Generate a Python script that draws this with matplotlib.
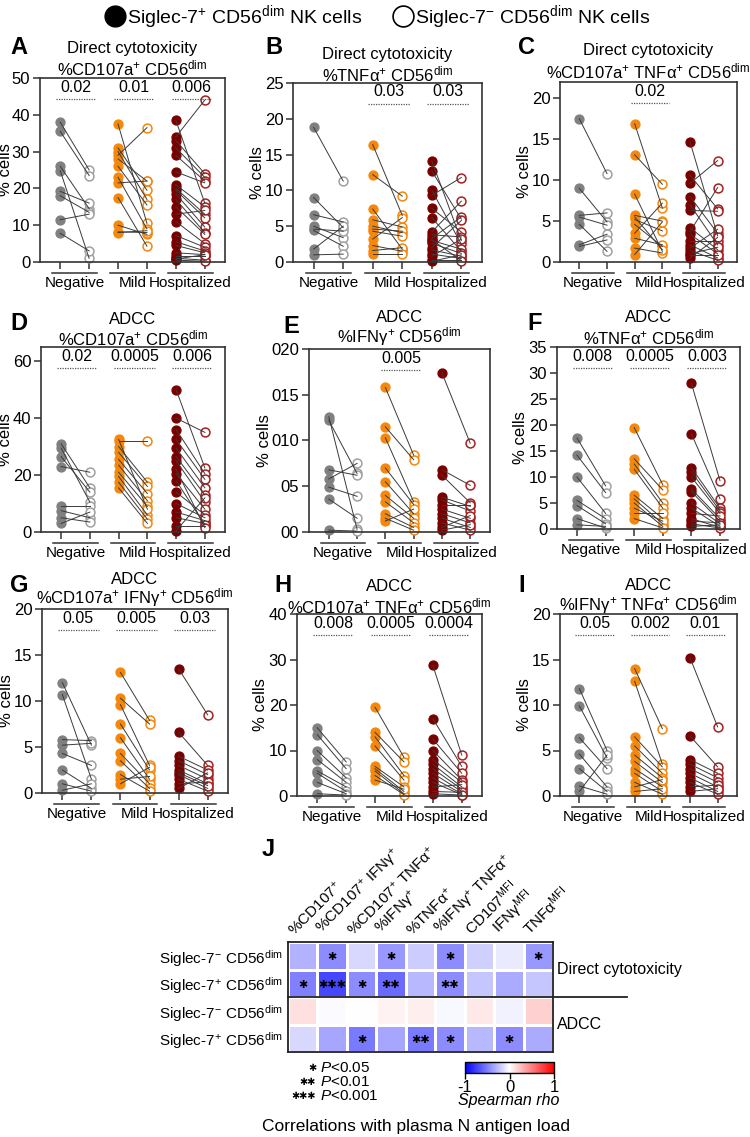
import numpy as np
import matplotlib as mpl
import matplotlib.pyplot as plt
import matplotlib.transforms as mtransforms
from matplotlib.lines import Line2D

mpl.rcParams["font.family"] = ["Liberation Sans", "DejaVu Sans"]
mpl.rcParams["mathtext.fontset"] = "custom"
mpl.rcParams["mathtext.rm"] = "Liberation Sans"
mpl.rcParams["mathtext.it"] = "Liberation Sans:italic"
mpl.rcParams["mathtext.bf"] = "Liberation Sans:bold"

# paired values (Siglec-7+ , Siglec-7-) per donor
a_neg = [(38, 25), (35.5, 23.5), (26, 14.5), (24.8, 1), (19.2, 16), (18, 13.5), (11.5, 13), (7.8, 3)]
a_mild = [(37.5, 10.5), (31, 19.5), (30, 17), (29, 36.5), (28, 22), (26, 15.5), (23, 9), (21.5, 22),
          (17.5, 4.3), (10, 7.5), (8.2, 8), (8, 8.5)]
a_hosp = [(38.5, 16), (34, 44), (33, 24), (31, 23), (29, 22), (24.5, 21.5), (21, 15), (20, 13), (19.5, 12),
          (18.5, 9.5), (17, 8), (15, 7.5), (13, 14), (11, 5), (7.2, 4), (5.5, 3), (4.5, 2.5), (2.5, 2),
          (1.5, 1.5), (1, 0.5), (0.5, 0.2), (0.8, 2)]

b_neg = [(18.8, 11.3), (9, 4.8), (6.6, 5.6), (5, 3.4), (4.6, 4.3), (4.4, 2.2), (1.8, 5.0), (1, 1.1)]
b_mild = [(16.4, 6.5), (12.2, 9.2), (7.4, 1.8), (5.9, 4.9), (5, 4.1), (4.6, 4.3), (4.3, 3.6), (3.2, 6.2),
          (2.3, 1.5), (1.6, 2.0), (1.1, 1.1)]
b_hosp = [(14.1, 3), (12.7, 6), (10, 2.5), (9.3, 11.8), (7.5, 4.2), (6.2, 1.5), (4.2, 8.5), (3.8, 3.5),
          (3.3, 6.3), (3.0, 1.8), (2.6, 1.2), (1.7, 0.8), (1.1, 0.5), (0.8, 3.2), (0.3, 0.3), (0.1, 1.0),
          (2.0, 5.8), (3.1, 0.2)]

c_neg = [(17.5, 10.8), (9, 4.9), (5.7, 6), (5.5, 4.5), (4.6, 1.3), (2.1, 3.4), (1.9, 2.7)]
c_mild = [(16.9, 6.6), (13.1, 9.5), (8.3, 1.3), (5.7, 5.0), (5.2, 3.8), (4.6, 1.9), (3.5, 7.2), (2.9, 2.1),
          (1.7, 1.1), (0.9, 4.9), (5.5, 1.5)]
c_hosp = [(14.7, 3.2), (10.6, 6.5), (9.6, 12.4), (8, 3.5), (7, 2.1), (6.3, 6.2), (4.2, 1.5), (3.7, 9.1),
          (3.4, 1.0), (2.6, 2.6), (2.1, 0.5), (1.7, 4.0), (1.4, 0.2), (1.0, 1.8), (0.8, 0.8), (0.5, 3.0)]

d_neg = [(31, 15.5), (29.5, 10.5), (26.5, 14), (23, 21), (9, 9), (7.5, 5), (5, 3.5), (3, 7)]
d_mild = [(32, 32), (30, 17.5), (28, 16), (25.5, 13.5), (23.5, 11), (21, 9), (19.5, 6), (17.5, 4.5),
          (15.5, 3), (32.5, 8)]
d_hosp = [(50, 22.5), (40, 35), (36, 20.5), (32.5, 18.5), (29.5, 15.5), (26.5, 13), (25, 10.5), (20.5, 8),
          (14, 6), (7, 4), (5, 3), (2, 2), (0.5, 12), (10, 5), (18, 2.5), (22, 1.5)]

e_neg = [(12.6, 0.3), (12.2, 6.4), (6.8, 6.2), (5.8, 7.5), (4.9, 3.9), (3.6, 1.5), (0.2, 0.1)]
e_mild = [(15.8, 8.4), (11.5, 7.9), (10.3, 3.3), (7, 3), (5.5, 2), (4, 1.5), (3.3, 1), (2, 0.5), (1.5, 0.2),
          (1.2, 2.5)]
e_hosp = [(17.4, 9.7), (6.8, 5.1), (6.2, 3.2), (3.8, 2.8), (3.5, 2.3), (2.5, 1.5), (2, 1), (1.5, 0.5),
          (1, 0.2), (0.5, 1.8), (3, 3), (0.2, 0.8)]

f_neg = [(17.5, 8.3), (14.2, 7), (10, 3), (5.5, 2), (4.5, 1), (2, 0.2), (0.8, 0.5)]
f_mild = [(19.5, 8.5), (13.5, 7.5), (12.5, 5), (11.5, 4), (6.5, 2), (5.8, 1), (5, 0.5), (4, 1.5), (3, 3),
          (2, 0.2)]
f_hosp = [(28, 9.3), (18.3, 5.8), (11.8, 4), (11, 3.5), (10, 3), (7.7, 2), (7.2, 1.5), (5, 1), (4, 0.5),
          (3, 2.5), (2, 0.3), (1.5, 1.2), (1, 0.2), (0.5, 0.8)]

g_neg = [(12, 5.2), (10.7, 1.5), (5.8, 5.7), (5.2, 5.4), (4.3, 3), (2.5, 0.5), (1, 0.2), (0.3, 1)]
g_mild = [(13.1, 7.9), (10.3, 7.5), (9.6, 3), (7.5, 2.5), (6, 1.5), (4.3, 1), (3.5, 0.5), (2, 0.2),
          (1.5, 1.8), (1, 2.8)]
g_hosp = [(13.5, 8.5), (6.6, 3), (4, 2.5), (3.5, 2), (3, 1.5), (2.5, 1), (2, 0.5), (1.5, 0.2), (1, 1.2),
          (0.5, 2.2), (2.2, 0.8)]

h_neg = [(15, 7.5), (13.5, 6), (10, 4), (8, 3), (5.5, 2), (5, 1), (3, 0.5), (0.5, 0.2)]
h_mild = [(19.5, 8.5), (14, 7.5), (13, 4.5), (11, 3.5), (6.5, 2), (6, 1), (5.5, 0.5), (4.5, 0.3), (3.5, 1.5)]
h_hosp = [(28.7, 9), (17, 6.5), (12.5, 5), (10, 3.5), (8, 3), (7, 2), (6, 1.5), (5, 1), (4, 0.5), (3, 0.3),
          (2, 2.5), (1, 0.8), (0.5, 0.2)]

i_neg = [(11.8, 5), (9.9, 4.2), (6.4, 3), (4.6, 1), (3, 0.5), (1.1, 0.2), (0.5, 4.5)]
i_mild = [(14, 7.4), (12.6, 3.5), (6.5, 3.2), (5.5, 2.5), (4.5, 2), (3.8, 1.5), (3, 1), (2.5, 0.5),
          (1.5, 0.2), (1, 1.8), (0.5, 0.8)]
i_hosp = [(15.2, 7.6), (6.6, 3.2), (4, 2.5), (3.5, 2), (3, 1.5), (2.5, 1), (2, 0.5), (1.5, 0.2), (1, 1.2),
          (0.5, 0.8)]

groups = ["Negative", "Mild", "Hospitalized"]
pvals_a = ["0.02", "0.01", "0.006"]
pvals_b = [None, "0.03", "0.03"]
pvals_c = [None, "0.02", None]
pvals_d = ["0.02", "0.0005", "0.006"]
pvals_e = [None, "0.005", None]
pvals_f = ["0.008", "0.0005", "0.003"]
pvals_g = ["0.05", "0.005", "0.03"]
pvals_h = ["0.008", "0.0005", "0.0004"]
pvals_i = ["0.05", "0.002", "0.01"]

# heatmap: Spearman rho with plasma N antigen
hm_cols = [r"%CD107$^{+}$", r"%CD107$^{+}$ IFNγ$^{+}$", r"%CD107$^{+}$ TNFα$^{+}$", r"%IFNγ$^{+}$",
           r"%TNFα$^{+}$", r"%IFNγ$^{+}$ TNFα$^{+}$", r"CD107$^{\mathrm{MFI}}$", r"IFNγ$^{\mathrm{MFI}}$",
           r"TNFα$^{\mathrm{MFI}}$"]
hm_rows = [r"Siglec-7$^{-}$ CD56$^{\mathrm{dim}}$", r"Siglec-7$^{+}$ CD56$^{\mathrm{dim}}$",
           r"Siglec-7$^{-}$ CD56$^{\mathrm{dim}}$", r"Siglec-7$^{+}$ CD56$^{\mathrm{dim}}$"]
rho_dc_neg = [-0.30, -0.45, -0.15, -0.40, -0.20, -0.45, -0.18, -0.08, -0.40]
rho_dc_pos = [-0.50, -0.72, -0.45, -0.58, -0.28, -0.45, -0.22, -0.33, -0.22]
rho_adcc_neg = [0.12, -0.02, 0.0, 0.05, 0.07, -0.03, 0.09, -0.05, 0.18]
rho_adcc_pos = [-0.15, -0.35, -0.52, -0.35, -0.52, -0.45, -0.28, -0.45, -0.33]
stars_dc_neg = ["", "*", "", "*", "", "*", "", "", "*"]
stars_dc_pos = ["*", "***", "*", "**", "", "**", "", "", ""]
stars_adcc_neg = [""] * 9
stars_adcc_pos = ["", "", "*", "", "**", "*", "", "*", ""]

W, H = 750, 1137
fig = plt.figure(figsize=(W / 100, H / 100), dpi=100)

FILL = ["#808080", "#f5870a", "#7a0000"]
EDGE = ["#a0a0a0", "#f5870a", "#a52020"]
SPINE = "#333333"


def px_axes(l, t, r, b):
    return fig.add_axes([l / W, 1 - b / H, (r - l) / W, (b - t) / H])


def ftext(x, y, s, **kw):
    fig.text(x / W, 1 - y / H, s, **kw)


def paired_panel(ax, data, ylim, yticks, yticklabels, pvals):
    for g, pairs in enumerate(data):
        x0, x1 = 2 * g, 2 * g + 1
        pos = [p[0] for p in pairs]
        neg = [p[1] for p in pairs]
        for a, b in pairs:
            ax.plot([x0, x1], [a, b], color="#3a3a3a", lw=0.7, zorder=3)
        ax.plot([x0] * len(pos), pos, "o", ms=6.4, mfc=FILL[g], mec=FILL[g], zorder=2, clip_on=False)
        ax.plot([x1] * len(neg), neg, "o", ms=6.4, mfc="white", mec=EDGE[g], mew=1.1, zorder=2,
                clip_on=False)
        tr = ax.get_xaxis_transform()
        if pvals[g]:
            ax.plot([x0 - 0.15, x1 + 0.25], [0.885, 0.885], transform=tr, color="#555555", lw=0.9,
                    ls=(0, (1, 1)), clip_on=False)
            ax.text(x0 + 0.55, 0.95, pvals[g], transform=tr, ha="center", va="center", fontsize=11.5)
        under = mtransforms.offset_copy(tr, fig=fig, y=-11, units="dots")
        ax.plot([x0 - 0.27, x1 + 0.27], [0, 0], transform=under, color="#333333", lw=1.1, clip_on=False)
        lab = mtransforms.offset_copy(tr, fig=fig, y=-21, units="dots")
        ax.text(x0 + 0.5, 0, groups[g], transform=lab, ha="center", va="center", fontsize=11)
    ax.set_xlim(-0.7, 5.7)
    ax.set_ylim(*ylim)
    ax.set_xticks(range(6))
    ax.set_xticklabels([])
    ax.set_yticks(yticks)
    ax.set_yticklabels(yticklabels)
    ax.tick_params(axis="both", length=5, width=1.1, color=SPINE, labelsize=12, pad=2)
    for s in ax.spines.values():
        s.set_linewidth(1.2)
        s.set_color(SPINE)
    ax.set_ylabel("% cells", fontsize=12)


panels = [
    ("A", (40, 78, 225, 262), [a_neg, a_mild, a_hosp], (0, 50), range(0, 51, 10), None, pvals_a,
     "Direct cytotoxicity", r"%CD107a$^{+}$ CD56$^{\mathrm{dim}}$", (10, 48), 48, 68, 27),
    ("B", (293, 83, 482, 262), [b_neg, b_mild, b_hosp], (0, 25), range(0, 26, 5), None, pvals_b,
     "Direct cytotoxicity", r"%TNFα$^{+}$ CD56$^{\mathrm{dim}}$", (265, 48), 55, 74, 28),
    ("C", (560, 82, 737, 262), [c_neg, c_mild, c_hosp], (0, 22), range(0, 21, 5), None, pvals_c,
     "Direct cytotoxicity", r"%CD107a$^{+}$ TNFα$^{+}$ CD56$^{\mathrm{dim}}$", (518, 48), 51, 71, 28),
    ("D", (41, 347, 225, 532), [d_neg, d_mild, d_hosp], (0, 65), range(0, 61, 20), None, pvals_d,
     "ADCC", r"%CD107a$^{+}$ CD56$^{\mathrm{dim}}$", (10, 323), 319, 338, 28),
    ("E", (309, 349, 490, 532), [e_neg, e_mild, e_hosp], (0, 20), range(0, 21, 5),
     ["00", "05", "010", "015", "020"], pvals_e,
     "ADCC", r"%IFNγ$^{+}$ CD56$^{\mathrm{dim}}$", (283, 327), 318, 337, 37),
    ("F", (557, 347, 740, 529), [f_neg, f_mild, f_hosp], (0, 35), range(0, 36, 5), None, pvals_f,
     "ADCC", r"%TNFα$^{+}$ CD56$^{\mathrm{dim}}$", (527, 323), 318, 337, 29),
    ("G", (42, 609, 228, 793), [g_neg, g_mild, g_hosp], (0, 20), range(0, 21, 5), None, pvals_g,
     "ADCC", r"%CD107a$^{+}$ IFNγ$^{+}$ CD56$^{\mathrm{dim}}$", (10, 585), 579, 598, 28),
    ("H", (297, 614, 482, 796), [h_neg, h_mild, h_hosp], (0, 40), range(0, 41, 10), None, pvals_h,
     "ADCC", r"%CD107a$^{+}$ TNFα$^{+}$ CD56$^{\mathrm{dim}}$", (274, 585), 586, 606, 29),
    ("I", (560, 614, 737, 796), [i_neg, i_mild, i_hosp], (0, 20), range(0, 21, 5), None, pvals_i,
     "ADCC", r"%IFNγ$^{+}$ TNFα$^{+}$ CD56$^{\mathrm{dim}}$", (518, 585), 585, 605, 28),
]

for letter, box, data, ylim, yt, ytl, pv, t1, t2, lpos, y1, y2, yl_off in panels:
    ax = px_axes(*box)
    paired_panel(ax, data, ylim, list(yt), ytl if ytl else [str(v) for v in yt], pv)
    ax.yaxis.set_label_coords(-yl_off / (box[2] - box[0]), 0.5)
    xc = (box[0] + box[2]) / 2
    ftext(xc, y1, t1, ha="center", va="center", fontsize=12)
    ftext(xc, y2, t2, ha="center", va="center", fontsize=12)
    ftext(lpos[0], lpos[1], letter, ha="left", va="center", fontsize=17, fontweight="bold")

# legend on top
handles = [Line2D([], [], marker="o", ls="", ms=15, mfc="black", mec="black"),
           Line2D([], [], marker="o", ls="", ms=15, mfc="white", mec="black", mew=1.2)]
fig.legend(handles, [r"Siglec-7$^{+}$ CD56$^{\mathrm{dim}}$ NK cells",
                     r"Siglec-7$^{-}$ CD56$^{\mathrm{dim}}$ NK cells"],
           loc="center", bbox_to_anchor=(378 / W, 1 - 17 / H), ncol=2, frameon=False, fontsize=14,
           handletextpad=0.1, columnspacing=1.6, handlelength=1.0)

# heatmap J
hm = np.array([rho_dc_neg, rho_dc_pos, rho_adcc_neg, rho_adcc_pos])
stars = [stars_dc_neg, stars_dc_pos, stars_adcc_neg, stars_adcc_pos]
hx = px_axes(288, 942, 553, 1052)
hx.pcolormesh(hm, cmap="bwr", vmin=-1, vmax=1, edgecolors="white", linewidth=1.0)
hx.set_ylim(4, 0)
hx.set_xlim(0, 9)
hx.set_xticks([])
hx.set_yticks(np.arange(4) + 0.5)
hx.set_yticklabels(hm_rows, fontsize=11)
hx.tick_params(axis="y", length=0, pad=4)
for s in hx.spines.values():
    s.set_linewidth(1.3)
    s.set_color("#222222")
for r in range(4):
    for c in range(9):
        if stars[r][c]:
            hx.text(c + 0.5, r + 0.55, "✱" * len(stars[r][c]), ha="center", va="center", fontsize=8,
                    family=["DejaVu Sans"], color="black")
top_off = mtransforms.offset_copy(hx.transData, fig=fig, y=4, units="dots")
for c, lab in enumerate(hm_cols):
    hx.text(c + 0.3, 0, lab, transform=top_off, rotation=45, rotation_mode="anchor", ha="left",
            va="bottom", fontsize=11)
hx.plot([0, 1.28], [0.5, 0.5], transform=hx.transAxes, color="#222222", lw=1.3, clip_on=False)
hx.text(1.015, 0.75, "Direct cytotoxicity", transform=hx.transAxes, ha="left", va="center", fontsize=11.5)
hx.text(1.015, 0.25, "ADCC", transform=hx.transAxes, ha="left", va="center", fontsize=11.5)
ftext(262, 850, "J", ha="left", va="center", fontsize=17, fontweight="bold")

cax = px_axes(465, 1062, 554, 1073)
cb = fig.colorbar(mpl.cm.ScalarMappable(norm=mpl.colors.Normalize(-1, 1), cmap="bwr"), cax=cax,
                  orientation="horizontal", ticks=[-1, 0, 1])
cb.ax.set_xticklabels(["-1", "0", "1"])
cb.ax.tick_params(labelsize=12, length=4, width=1, pad=1)
cb.outline.set_linewidth(1.0)
ftext(509, 1101, "Spearman rho", ha="center", va="center", fontsize=11.5, style="italic")

for k, (st, txt) in enumerate([("✱", "<0.05"), ("✱✱", "<0.01"), ("✱✱✱", "<0.001")]):
    yy = 1068 + k * 14
    ftext(316, yy, st, ha="right", va="center", fontsize=7, family=["DejaVu Sans"])
    ftext(320, yy, r"$P$" + txt, ha="left", va="center", fontsize=11)

ftext(416, 1126, "Correlations with plasma N antigen load", ha="center", va="center", fontsize=12.5)

fig.savefig("out.png", dpi=100)
